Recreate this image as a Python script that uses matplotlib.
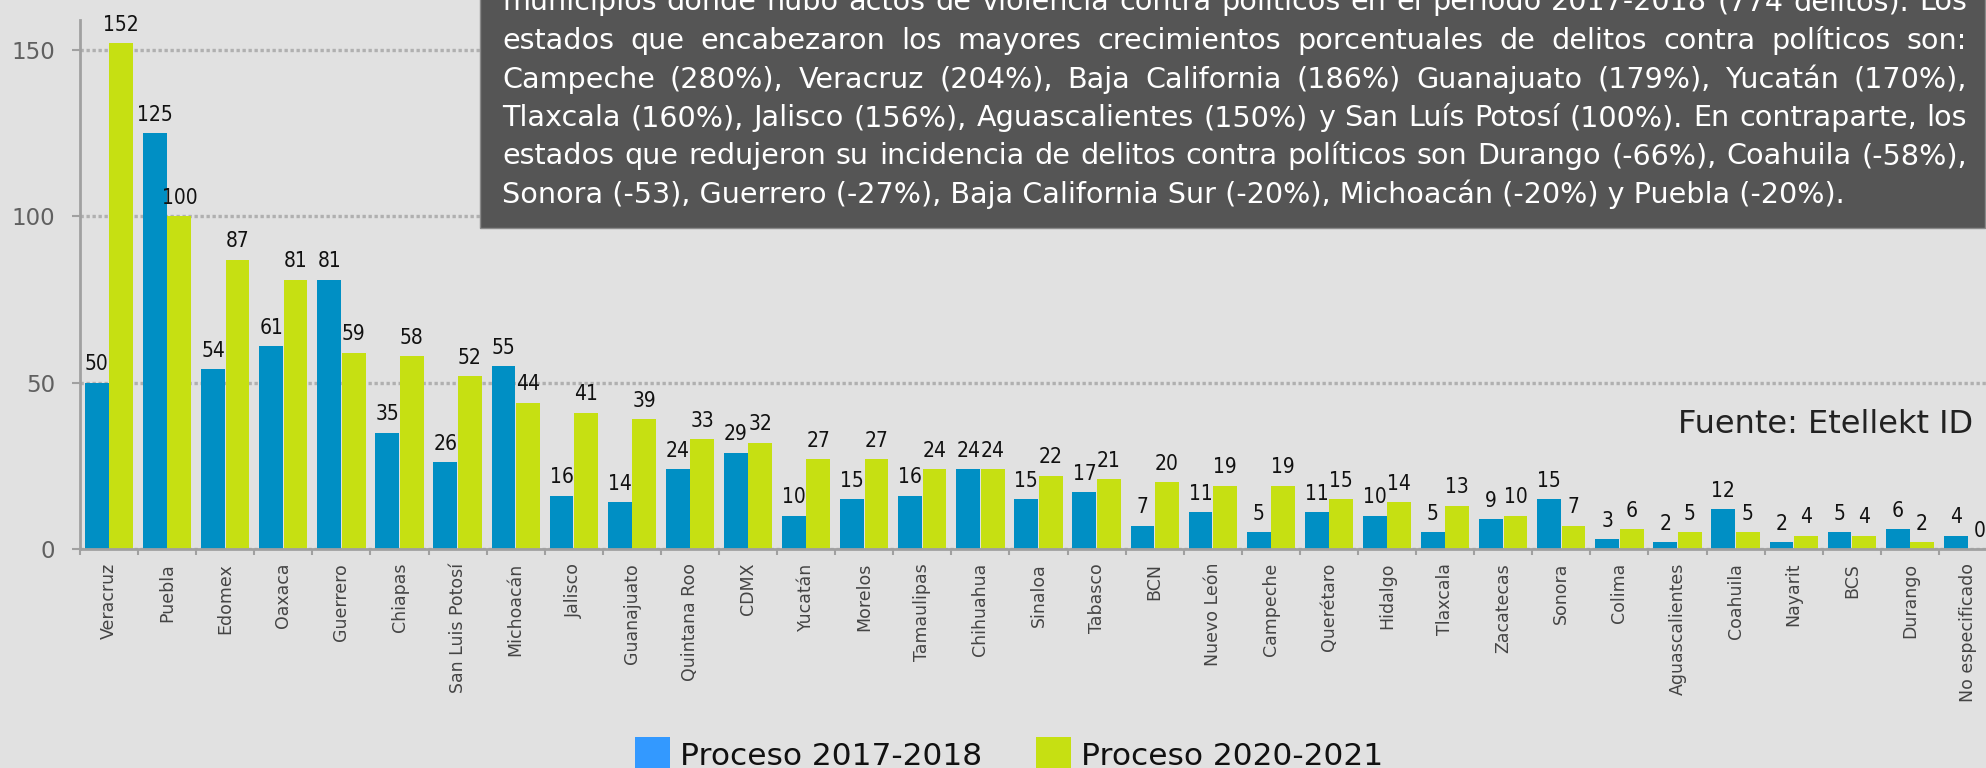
import matplotlib
matplotlib.use('Agg')
import matplotlib.pyplot as plt
from matplotlib.patches import Rectangle
import numpy as np

# datos
estados = ['Veracruz', 'Puebla', 'Edomex', 'Oaxaca', 'Guerrero', 'Chiapas',
           'San Luis Potosí', 'Michoacán', 'Jalisco', 'Guanajuato', 'Quintana Roo',
           'CDMX', 'Yucatán', 'Morelos', 'Tamaulipas', 'Chihuahua', 'Sinaloa',
           'Tabasco', 'BCN', 'Nuevo León', 'Campeche', 'Querétaro', 'Hidalgo',
           'Tlaxcala', 'Zacatecas', 'Sonora', 'Colima', 'Aguascalientes',
           'Coahuila', 'Nayarit', 'BCS', 'Durango', 'No especificado']
proceso_2017_2018 = [50, 125, 54, 61, 81, 35, 26, 55, 16, 14, 24, 29, 10, 15, 16, 24,
                     15, 17, 7, 11, 5, 11, 10, 5, 9, 15, 3, 2, 12, 2, 5, 6, 4]
proceso_2020_2021 = [152, 100, 87, 81, 59, 58, 52, 44, 41, 39, 33, 32, 27, 27, 24, 24,
                     22, 21, 20, 19, 19, 15, 14, 13, 10, 7, 6, 5, 5, 4, 4, 2, 0]
series = ['Proceso 2017-2018', 'Proceso 2020-2021']
y_ticks = [0, 50, 100, 150]
texto_lineas = [
    'municipios donde hubo actos de violencia contra políticos en el periodo 2017-2018 (774 delitos). Los',
    'estados que encabezaron los mayores crecimientos porcentuales de delitos contra políticos son:',
    'Campeche (280%), Veracruz (204%), Baja California (186%) Guanajuato (179%), Yucatán (170%),',
    'Tlaxcala (160%), Jalisco (156%), Aguascalientes (150%) y San Luís Potosí (100%). En contraparte, los',
    'estados que redujeron su incidencia de delitos contra políticos son Durango (-66%), Coahuila (-58%),',
    'Sonora (-53), Guerrero (-27%), Baja California Sur (-20%), Michoacán (-20%) y Puebla (-20%).',
]
fuente = 'Fuente: Etellekt ID'

AZUL = '#008fc4'
AZUL_LEY = '#3399ff'
VERDE = '#c6e012'
FONDO = '#e1e1e1'
GRIS = '#a0a0a0'

W, H = 1986, 768
fig = plt.figure(figsize=(W / 100, H / 100), dpi=100, facecolor=FONDO)


def fx(px):
    return px / W


def fy(py):
    return 1 - py / H


# ejes (el eje x sigue un poco fuera del lienzo, como en el original)
ax = fig.add_axes([fx(80), fy(549), (1997 - 80) / W, (549 - 20) / H])
ax.set_facecolor(FONDO)
x = np.arange(len(estados))
bw = 0.41
b1 = ax.bar(x - 0.21, proceso_2017_2018, bw, color=AZUL, zorder=2)
b2 = ax.bar(x + 0.21, proceso_2020_2021, bw, color=VERDE, zorder=2)
for bars in (b1, b2):
    ax.bar_label(bars, padding=6, fontsize=15, color='#111111',
                 family=['Liberation Sans Narrow', 'DejaVu Sans'],
                 fontstretch='condensed')

ax.set_xlim(-0.5, len(estados) - 0.5)
ax.set_ylim(0, 159)
ax.set_xticks(x)
ax.set_xticklabels(estados, rotation=90, fontsize=12.5, color='#444444')
ax.set_xticks(np.arange(-0.5, len(estados)), minor=True)
ax.tick_params(axis='x', which='major', length=0, pad=10)
ax.tick_params(axis='x', which='minor', length=4, width=1.5, color=GRIS)
ax.set_yticks(y_ticks)
ax.tick_params(axis='y', length=5.8, width=1.5, color=GRIS, labelsize=16.5,
               labelcolor='#606060', pad=12)
ax.set_axisbelow(True)
ax.grid(axis='y', linestyle=(0, (1, 0.8)), color='#b0b0b0', lw=2.4)
for s in ('top', 'right'):
    ax.spines[s].set_visible(False)
for s in ('left', 'bottom'):
    ax.spines[s].set_color(GRIS)
    ax.spines[s].set_linewidth(2)

# caja de texto
fig.add_artist(Rectangle((fx(480), fy(228)), fx(1985) - fx(480), 1 - fy(228) + 0.01,
                         transform=fig.transFigure, facecolor='#555555',
                         edgecolor='#8a8a8a', lw=1, zorder=5))

fig.canvas.draw()
r = fig.canvas.get_renderer()
BOX_FONT = 'DejaVu Sans'


def ancho(s, size):
    t = fig.text(0, 0, s, fontsize=size, family=BOX_FONT)
    w = t.get_window_extent(r).width
    t.remove()
    return w


x0, x1 = 502, 1967
size = 18
mx = max(ancho(l, size) for l in texto_lineas[:-1])
size = size * (x1 - x0 - 10) / mx

for i, linea in enumerate(texto_lineas):
    base = 10.5 + i * 38.5
    palabras = linea.split(' ')
    if i == len(texto_lineas) - 1:
        fig.text(fx(x0), fy(base), linea, fontsize=size, family=BOX_FONT,
                 color='white', va='baseline', ha='left', zorder=6)
        continue
    anchos = [ancho(p, size) for p in palabras]
    hueco = (x1 - x0 - sum(anchos)) / (len(palabras) - 1)
    xp = x0
    for p, w in zip(palabras, anchos):
        fig.text(fx(xp), fy(base), p, fontsize=size, family=BOX_FONT,
                 color='white', va='baseline', ha='left', zorder=6)
        xp += w + hueco

fig.text(fx(1973), fy(433), fuente, fontsize=23, color='#222222',
         ha='right', va='baseline')

# leyenda
for (xc, xt), col, lab in zip([(635, 680), (1036, 1081)], [AZUL_LEY, VERDE], series):
    fig.add_artist(Rectangle((fx(xc), fy(775)), 35 / W, 38 / H,
                             transform=fig.transFigure, facecolor=col, lw=0))
    fig.text(fx(xt), fy(765), lab, fontsize=22.5, color='#111111',
             ha='left', va='baseline')

fig.savefig('out.png', dpi=100, facecolor=fig.get_facecolor())
